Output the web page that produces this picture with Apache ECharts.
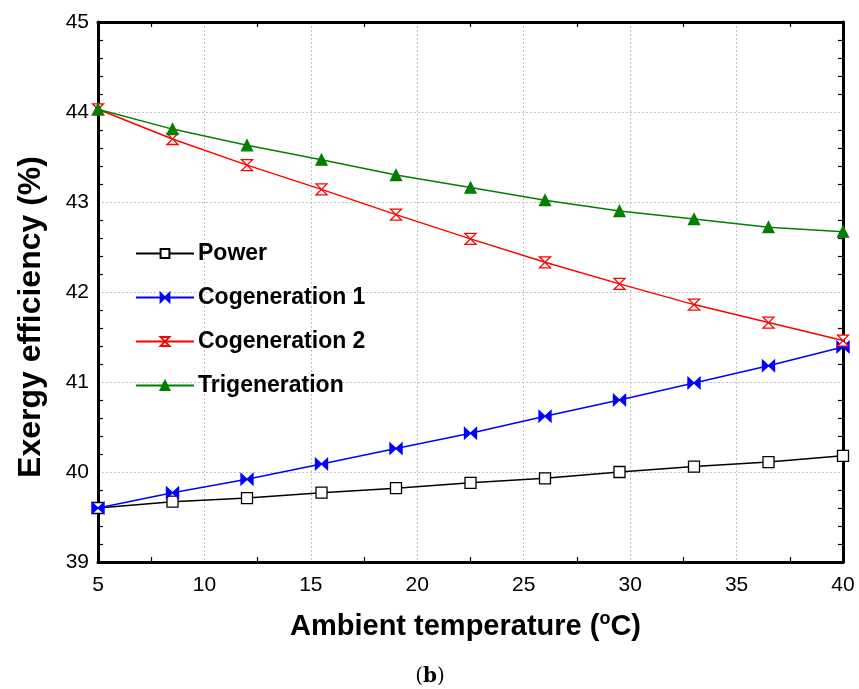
<!DOCTYPE html>
<html>
<head>
<meta charset="utf-8">
<script src="https://cdn.jsdelivr.net/npm/echarts@6/dist/echarts.min.js"></script>
<style>
  html, body { margin: 0; padding: 0; background: #fff; }
  #chart { width: 859px; height: 689px; }
</style>
</head>
<body>
<div id="chart"></div>
<script>
// Ambient temperature samples (°C)
const temperatures = [5, 8.5, 12, 15.5, 19, 22.5, 26, 29.5, 33, 36.5, 40];

// Exergy efficiency (%) of each configuration
const power         = [39.60, 39.67, 39.71, 39.77, 39.82, 39.88, 39.93, 40.00, 40.06, 40.11, 40.18];
const cogeneration1 = [39.60, 39.77, 39.92, 40.09, 40.26, 40.43, 40.62, 40.80, 40.99, 41.18, 41.39];
const cogeneration2 = [44.03, 43.70, 43.41, 43.14, 42.86, 42.59, 42.33, 42.09, 41.86, 41.66, 41.46];
const trigeneration = [44.03, 43.81, 43.63, 43.47, 43.30, 43.16, 43.02, 42.90, 42.81, 42.72, 42.67];

const seriesNames = ['Power', 'Cogeneration 1', 'Cogeneration 2', 'Trigeneration'];

const FONT = '"Liberation Sans", Arial, sans-serif';

// marker shapes
const bowtie = 'path://M0,0 L10,5 L0,10 Z M20,0 L10,5 L20,10 Z';
const hourglass = 'path://M0,0 L10,0 L0,10 L10,10 Z';

function pairs(ys) {
  return temperatures.map((t, i) => [t, ys[i]]);
}

function lineSeries(name, ys, color, symbol, size, fill) {
  return {
    name: name,
    type: 'line',
    data: pairs(ys),
    symbol: symbol,
    symbolSize: size,
    showAllSymbol: true,
    lineStyle: { color: color, width: 1.5 },
    itemStyle: { color: fill, borderColor: color, borderWidth: 1.3 },
    emphasis: { disabled: true },
    animation: false,
    z: 3
  };
}

const chart = echarts.init(document.getElementById('chart'), null, { renderer: 'canvas' });

const frameLine = { show: true, onZero: false, lineStyle: { color: '#000', width: 3 } };
const hiddenTick = { show: false, inside: true };
const minorCommon = { show: true, length: 5, lineStyle: { color: '#000', width: 1.2 } };
const gridDots = { show: true, lineStyle: { color: '#c4c4c4', type: [2, 2], width: 1 } };

chart.setOption({
  backgroundColor: '#fff',
  animation: false,
  grid: {
    left: 98, right: 16, top: 22, bottom: 127,
    show: false
  },
  legend: {
    orient: 'vertical',
    left: 135, top: 242,
    padding: 0,
    itemWidth: 58, itemHeight: 11,
    itemGap: 21,
    data: seriesNames,
    textStyle: { fontFamily: FONT, fontWeight: 'bold', fontSize: 23, color: '#000', padding: [0, 0, 0, -1] }
  },
  xAxis: [{
    type: 'value',
    min: 5, max: 40, interval: 5,
    axisLine: frameLine,
    axisTick: hiddenTick,
    minorTick: Object.assign({ splitNumber: 2 }, minorCommon),
    axisLabel: { fontFamily: FONT, fontSize: 21, color: '#000', margin: 13 },
    splitLine: gridDots,
    name: '{t|Ambient temperature (}{s|o}{t|C)}',
    nameLocation: 'middle',
    nameGap: 48,
    nameTextStyle: {
      padding: [0, 10, 0, 0],
      rich: {
        t: { fontFamily: FONT, fontWeight: 'bold', fontSize: 29, color: '#000' },
        s: { fontFamily: FONT, fontWeight: 'bold', fontSize: 18, color: '#000', verticalAlign: 'top', padding: [0, 0, 16, 0] }
      }
    }
  }, {
    type: 'value', position: 'top',
    min: 5, max: 40, interval: 5,
    axisLine: frameLine,
    axisTick: hiddenTick,
    minorTick: Object.assign({ splitNumber: 2 }, minorCommon),
    axisLabel: { show: false },
    splitLine: { show: false }
  }],
  yAxis: [{
    type: 'value',
    min: 39, max: 45, interval: 1,
    axisLine: frameLine,
    axisTick: hiddenTick,
    minorTick: Object.assign({ splitNumber: 5 }, minorCommon),
    axisLabel: { fontFamily: FONT, fontSize: 21, color: '#000', margin: 9 },
    splitLine: gridDots
  }, {
    type: 'value', position: 'right',
    min: 39, max: 45, interval: 1,
    axisLine: frameLine,
    axisTick: hiddenTick,
    minorTick: Object.assign({ splitNumber: 5 }, minorCommon),
    axisLabel: { show: false },
    splitLine: { show: false }
  }],
  series: [
    lineSeries('Power', power, '#000000', 'rect', 11, '#ffffff'),
    lineSeries('Cogeneration 1', cogeneration1, '#0000ff', bowtie, [12, 11], '#0000ff'),
    lineSeries('Cogeneration 2', cogeneration2, '#ff0000', hourglass, [11, 11], '#ffffff'),
    lineSeries('Trigeneration', trigeneration, '#008000', 'triangle', 11, '#008000')
  ],
  graphic: [{
    // vertical axis title
    type: 'text',
    x: 31, y: 317,
    rotation: Math.PI / 2,
    style: {
      text: 'Exergy efficiency (%)',
      font: 'bold 32px "Liberation Sans", Arial, sans-serif',
      fill: '#000',
      textAlign: 'center',
      textVerticalAlign: 'middle'
    }
  }, {
    // panel caption
    type: 'text',
    x: 430, y: 677,
    style: {
      text: '({b|b})',
      rich: { b: { fontFamily: '"DejaVu Serif", "Liberation Serif", serif', fontWeight: 'bold', fontSize: 20, fill: '#000' } },
      font: '20px "DejaVu Serif", "Liberation Serif", serif',
      fill: '#000',
      align: 'center',
      verticalAlign: 'middle'
    }
  }]
});
</script>
</body>
</html>
